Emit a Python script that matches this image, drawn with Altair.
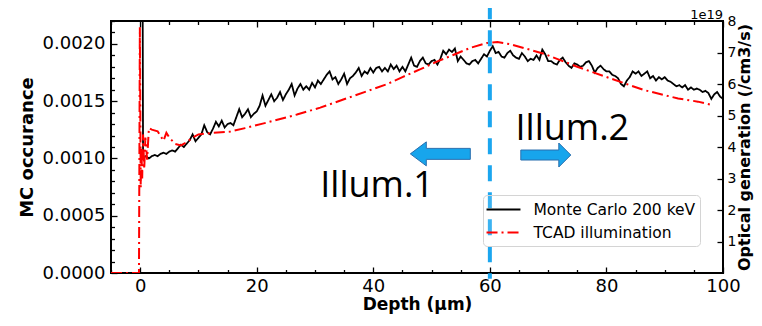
import altair as alt
import numpy as np
import pandas as pd

MC_LABEL = "Monte Carlo 200 keV"
TC_LABEL = "TCAD illumination"

# Monte Carlo occurrence, in units of 1e-4, one value every 0.5 um from 0.5 to 100
mc_spike_depth = [0.4]
mc_spike_value = [30.0]
mc_values = [
    10.1, 10.2, 10.0, 10.2, 10.3, 10.2, 10.4, 10.5, 10.4, 10.6,
    10.7, 10.6, 10.9, 11.2, 11.0, 11.3, 11.6, 12.1, 11.5, 11.8,
    12.1, 12.9, 12.3, 12.1, 12.6, 13.2, 12.8, 13.3, 12.7, 13.0,
    13.1, 12.9, 13.6, 14.3, 13.6, 13.9, 14.3, 13.6, 13.9, 14.1,
    14.6, 15.5, 14.6, 15.1, 15.6, 15.0, 15.3, 15.8, 15.1, 15.6,
    16.0, 16.5, 15.5, 16.1, 16.5, 16.0, 16.3, 16.0, 16.6, 16.2,
    16.8, 16.5, 16.9, 17.3, 17.6, 16.9, 17.1, 16.5, 16.9, 17.4,
    16.5, 17.0, 17.2, 17.5, 17.9, 17.2, 17.6, 17.4, 17.9, 17.5,
    17.9, 18.0, 17.6, 17.9, 17.6, 18.2, 17.8, 18.1, 17.6, 18.0,
    17.6, 18.2, 18.8, 18.1, 18.0, 18.5, 18.8, 18.3, 18.2, 18.5,
    18.6, 18.2, 18.7, 19.4, 19.1, 19.5, 19.3, 19.6, 18.5, 18.9,
    18.6, 18.3, 18.2, 18.5, 18.6, 18.3, 18.7, 19.1, 18.9, 19.4,
    19.8, 19.2, 19.3, 18.9, 18.8, 19.2, 19.4, 19.0, 18.8, 18.7,
    19.2, 18.9, 18.5, 18.7, 18.6, 19.0, 18.6, 19.5, 19.1, 18.5,
    18.5, 18.3, 18.2, 18.6, 18.8, 18.4, 18.1, 17.9, 18.3, 18.2,
    18.0, 18.1, 18.4, 18.5, 18.1, 17.5, 17.9, 18.1, 17.8, 17.6,
    17.6, 17.3, 17.2, 17.0, 16.5, 16.3, 16.8, 17.1, 17.6, 17.4,
    17.6, 17.2, 17.4, 17.6, 17.0, 17.2, 16.8, 17.1, 16.9, 17.1,
    16.8, 16.7, 16.5, 16.3, 16.4, 16.2, 16.4, 16.0, 16.2, 16.0,
    16.1, 16.0, 15.8, 15.9, 15.7, 15.2, 15.6, 15.8, 15.4, 15.2,
]
mc_grid = list(np.round(np.arange(0.5, 100.01, 0.5), 2))

# TCAD optical generation, in units of 1e19 /cm3/s
tc_depth = [-5, -0.2, -0.05, 0.1, 0.2, 0.35, 0.5, 0.7, 0.9, 1.2, 1.5, 2.0, 3.0,
            4.0, 4.5, 5.0, 6.0, 7.0, 8.0, 9.0, 10.0, 12.0, 15.5, 18.0, 21.2,
            26.9, 30.9, 36.6, 42.4, 45.0, 48.1, 51.0, 53.8, 56.7, 59.5, 61.3,
            63.6, 69.3, 75.1, 80.8, 86.4, 92.3, 95.7, 98.0]
tc_gen = [0, 0, 7.8, 2.7, 4.0, 3.0, 4.4, 3.3, 4.3, 3.6, 4.6, 4.55, 4.5,
          4.2, 4.45, 4.3, 4.1, 4.05, 4.15, 4.3, 4.4, 4.44, 4.49, 4.6, 4.75,
          5.03, 5.25, 5.62, 6.0, 6.22, 6.47, 6.72, 6.93, 7.15, 7.3, 7.33,
          7.26, 6.96, 6.54, 6.17, 5.81, 5.54, 5.44, 5.34]

# annotations (data coordinates: depth, MC occurrence)
illum_labels = ["Illum.1", "Illum.2"]
illum_depth = [30.9, 64.4]
illum_occ = [0.00066, 0.00116]
arrow_left_depth = [51.5]
arrow_left_occ = [0.00104]
arrow_right_depth = [69.6]
arrow_right_occ = [0.00103]
vline_depth = [60]
vline_top = [0.002355]
vline_bottom = [-0.00005]
offset_label = ["1e19"]
offset_depth = [100]
offset_occ = [0.0022]

mc_df = pd.DataFrame({
    "depth": mc_spike_depth + mc_grid,
    "occ": np.array(mc_spike_value + mc_values) * 1e-4,
    "series": MC_LABEL,
})
tc_df = pd.DataFrame({"depth": tc_depth, "gen": tc_gen, "series": TC_LABEL})
illum_df = pd.DataFrame({"depth": illum_depth, "occ": illum_occ, "label": illum_labels})
al_df = pd.DataFrame({"depth": arrow_left_depth, "occ": arrow_left_occ})
ar_df = pd.DataFrame({"depth": arrow_right_depth, "occ": arrow_right_occ})
vl_df = pd.DataFrame({"depth": vline_depth, "top": vline_top, "bottom": vline_bottom})
off_df = pd.DataFrame({"depth": offset_depth, "occ": offset_occ, "label": offset_label})

xs = alt.Scale(domain=[-5, 100], nice=False, zero=False)
ys_mc = alt.Scale(domain=[0, 0.0022], nice=False, zero=False)
ys_tc = alt.Scale(domain=[0, 8], nice=False, zero=False)

color_scale = alt.Scale(domain=[MC_LABEL, TC_LABEL], range=["black", "red"])
dash_scale = alt.Scale(domain=[MC_LABEL, TC_LABEL], range=[[1, 0], [11, 4, 2, 4]])

legend = alt.Legend(
    orient="none", legendX=372, legendY=174, title=None,
    labelFontSize=15.5, labelFont="DejaVu Sans", labelColor="black", labelLimit=400,
    symbolType="M -1.96 0 L 1.96 0", symbolSize=300, symbolStrokeWidth=2,
    symbolOffset=6, labelOffset=20, padding=4.5, rowPadding=4,
    strokeColor="#d4d4d4", cornerRadius=4, fillColor="rgba(255,255,255,0.15)",
)

x_main_axis = alt.Axis(
    orient="bottom", values=[0, 20, 40, 60, 80, 100], format="d",
    ticks=False, tickSize=0, domain=False, grid=False, labelFlush=False,
    labelFontSize=18, labelPadding=4, title="Depth (μm)",
    titleFontSize=17, titleFontWeight="bold", titlePadding=1,
)
y_left_axis = alt.Axis(
    orient="left", values=[0, 0.0005, 0.001, 0.0015, 0.002], format=".4f",
    ticks=False, tickSize=0, domain=False, grid=False, labelFlush=False,
    labelFontSize=18, labelPadding=6, title="MC occurance",
    titleFontSize=18, titleFontWeight="bold", titlePadding=6,
)
y_right_axis = alt.Axis(
    orient="right", values=[1, 2, 3, 4, 5, 6, 7, 8], format="d",
    ticks=False, tickSize=0, domain=False, grid=False, labelFlush=False,
    labelFontSize=14, labelPadding=4, title="Optical generation (/cm3/s)",
    titleFontSize=16, titleFontWeight="bold", titlePadding=1,
    titleAngle=270, titleBaseline="top",
)

mc_line = alt.Chart(mc_df).mark_line(strokeWidth=1.8, clip=True).encode(
    x=alt.X("depth:Q", scale=xs, axis=x_main_axis),
    y=alt.Y("occ:Q", scale=ys_mc, axis=y_left_axis),
    color=alt.Color("series:N", scale=color_scale, legend=legend),
    strokeDash=alt.StrokeDash("series:N", scale=dash_scale, legend=legend),
)
tc_line = alt.Chart(tc_df).mark_line(strokeWidth=2, clip=True).encode(
    x=alt.X("depth:Q", scale=xs, axis=None),
    y=alt.Y("gen:Q", scale=ys_tc, axis=y_right_axis),
    color=alt.Color("series:N", scale=color_scale, legend=legend),
    strokeDash=alt.StrokeDash("series:N", scale=dash_scale, legend=legend),
)

vline = alt.Chart(vl_df).mark_rule(color="#1ba6ef", strokeWidth=4, strokeDash=[16, 11]).encode(
    x=alt.X("depth:Q", scale=xs, axis=None),
    y=alt.Y("top:Q", scale=ys_mc, axis=None),
    y2="bottom:Q",
)

left_path = "M -1 0 L -0.467 -0.4 L -0.467 -0.183 L 1 -0.183 L 1 0.183 L -0.467 0.183 L -0.467 0.4 Z"
right_path = "M 1 0 L 0.52 -0.48 L 0.52 -0.2 L -1 -0.2 L -1 0.2 L 0.52 0.2 L 0.52 0.48 Z"
arrow_style = dict(filled=True, fill="#17a5ec", stroke="#2a6fae", strokeWidth=1, opacity=1)
arrow_l = alt.Chart(al_df).mark_point(shape=left_path, size=3600, **arrow_style).encode(
    x=alt.X("depth:Q", scale=xs, axis=None),
    y=alt.Y("occ:Q", scale=ys_mc, axis=None),
)
arrow_r = alt.Chart(ar_df).mark_point(shape=right_path, size=2500, **arrow_style).encode(
    x=alt.X("depth:Q", scale=xs, axis=None),
    y=alt.Y("occ:Q", scale=ys_mc, axis=None),
)
illum = alt.Chart(illum_df).mark_text(
    font="Open Sans", fontSize=36, align="left", baseline="alphabetic", color="black"
).encode(
    x=alt.X("depth:Q", scale=xs, axis=None),
    y=alt.Y("occ:Q", scale=ys_mc, axis=None),
    text="label:N",
)
offset_txt = alt.Chart(off_df).mark_text(
    fontSize=13, align="right", baseline="alphabetic", dy=-2, color="black"
).encode(
    x=alt.X("depth:Q", scale=xs, axis=None),
    y=alt.Y("occ:Q", scale=ys_mc, axis=None),
    text="label:N",
)


def tick_axis(orient, values, size):
    return alt.Axis(orient=orient, values=values, ticks=True, tickSize=size, offset=-size,
                    labels=False, domain=False, grid=False, tickColor="black", tickWidth=1.3)


x_major = [0, 20, 40, 60, 80, 100]
x_minor = [v for v in range(-5, 101, 5) if v % 20 != 0]
y_major = [0, 0.0005, 0.001, 0.0015, 0.002]
y_minor = [round(i * 0.0001, 4) for i in range(0, 23) if i % 5 != 0]
r_major = [1, 2, 3, 4, 5, 6, 7]

tick_layers = []
for orient, vals, size in [("bottom", x_major, 6), ("bottom", x_minor, 3.5),
                           ("top", x_major, 6), ("top", x_minor, 3.5)]:
    tick_layers.append(
        alt.Chart(mc_df).mark_point(opacity=0, size=1).encode(
            x=alt.X("depth:Q", scale=xs, axis=tick_axis(orient, vals, size), title=None),
            y=alt.value(0),
        )
    )
for vals, size in [(y_major, 6), (y_minor, 3.5)]:
    tick_layers.append(
        alt.Chart(mc_df).mark_point(opacity=0, size=1).encode(
            x=alt.value(0),
            y=alt.Y("occ:Q", scale=ys_mc, axis=tick_axis("left", vals, size), title=None),
        )
    )
tick_layers.append(
    alt.Chart(tc_df).mark_point(opacity=0, size=1).encode(
        x=alt.value(0),
        y=alt.Y("gen:Q", scale=ys_tc, axis=tick_axis("right", r_major, 6), title=None),
    )
)

chart = alt.layer(
    mc_line, tc_line, vline, arrow_l, arrow_r, illum, offset_txt, *tick_layers
).resolve_scale(
    y="independent"
).resolve_axis(
    x="independent", y="independent"
).properties(
    width=612, height=252,
    autosize=alt.AutoSizeParams(type="none"),
    padding={"left": 103, "top": 13, "right": 31, "bottom": 41},
).configure(
    font="DejaVu Sans",
).configure_view(
    stroke="black", strokeWidth=2,
).configure_axis(
    labelColor="black", titleColor="black", labelFont="DejaVu Sans", titleFont="DejaVu Sans",
)

chart.save("out.html", embed_options={"renderer": "svg", "actions": False})
